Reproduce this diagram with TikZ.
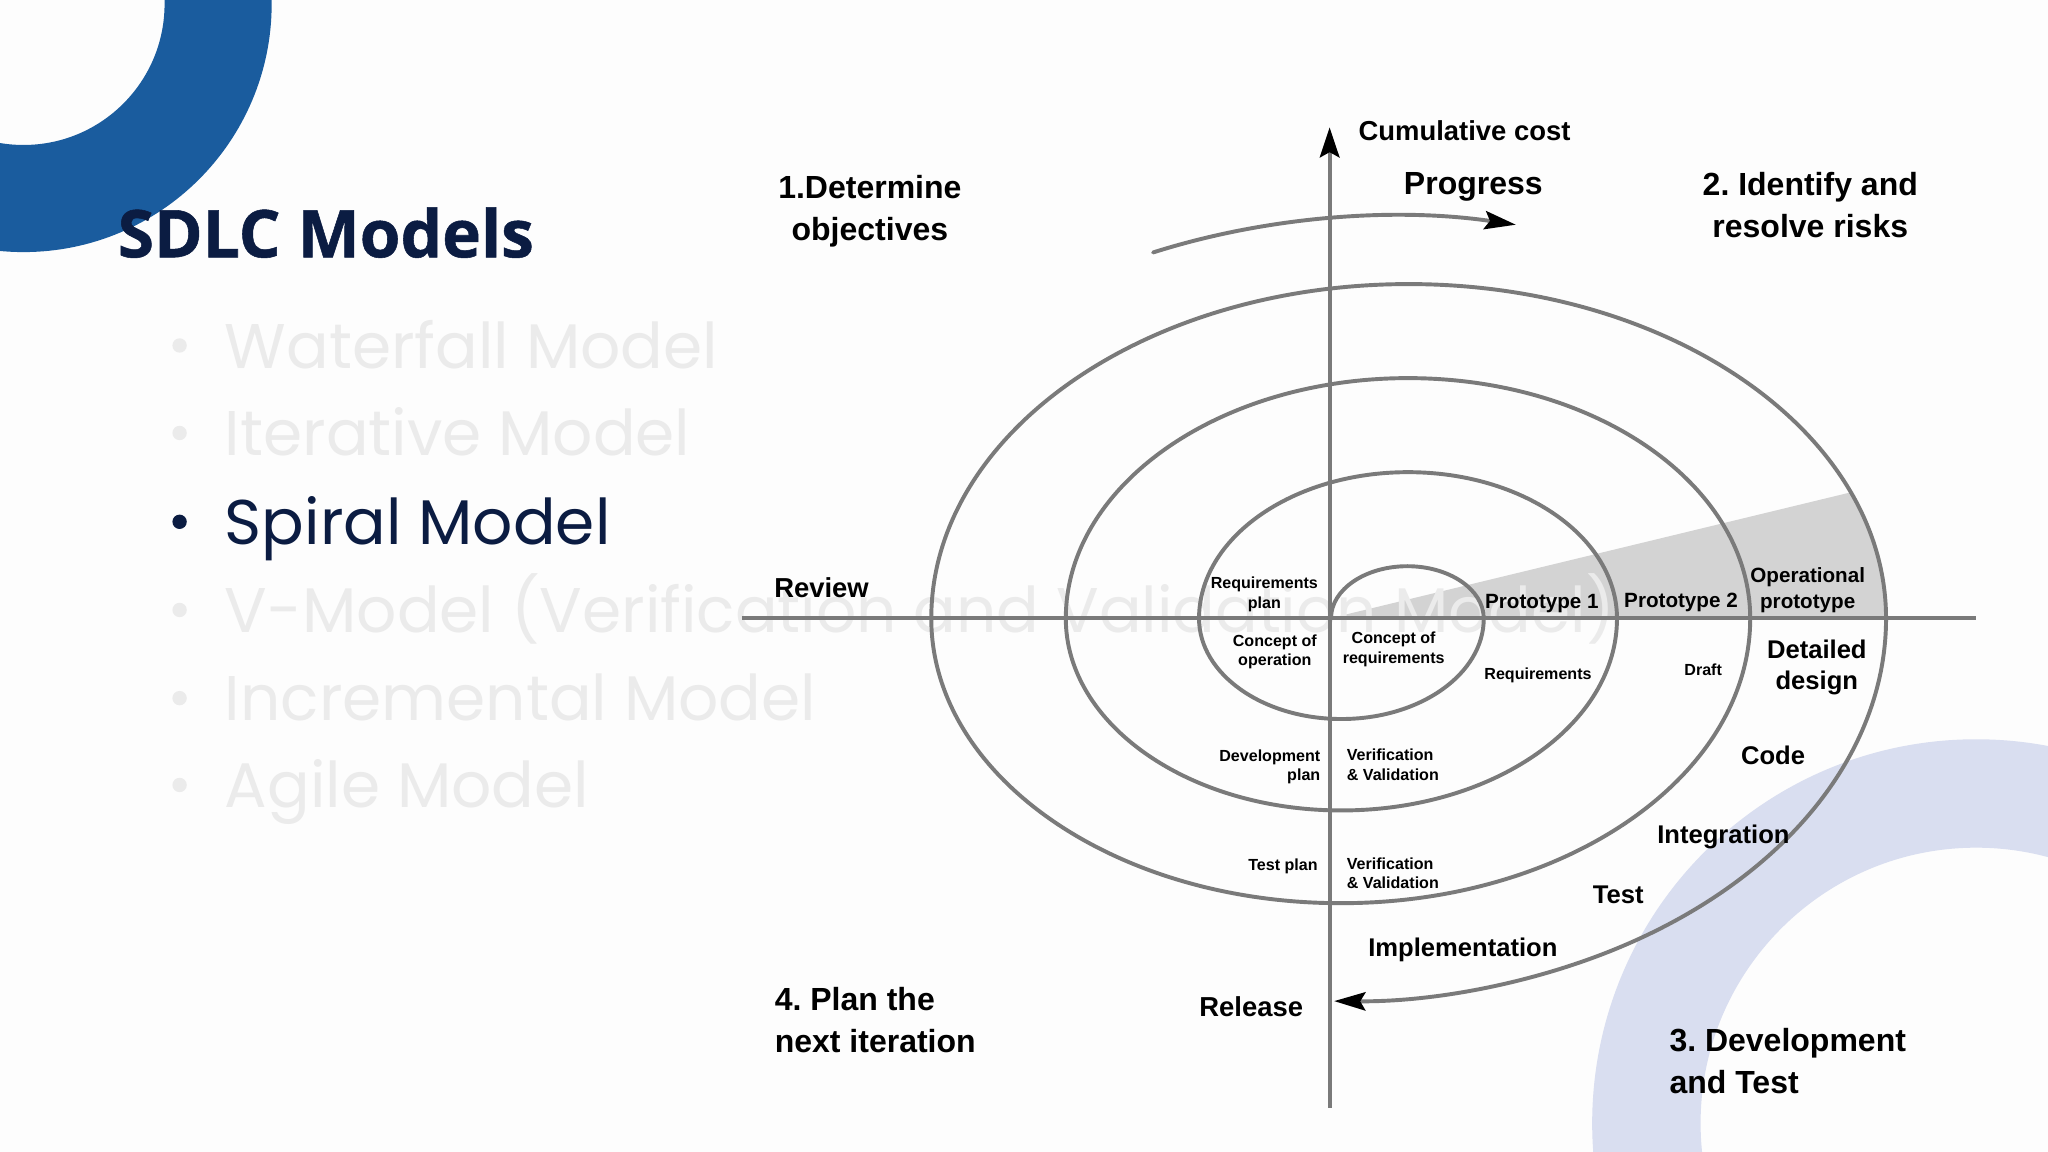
\documentclass[tikz,border=0pt]{standalone}
\usepackage{fontspec}
\setmainfont{Liberation Sans}
\newfontfamily\labfont{Liberation Sans}
\newfontfamily\popfont{Poppins}
\newfontfamily\osfont{Open Sans}[BoldFeatures={FakeBold=0.8}]
\usetikzlibrary{arrows.meta}
\definecolor{bgc}{HTML}{FDFDFD}
\definecolor{ringblue}{HTML}{1A5C9E}
\definecolor{ringlav}{HTML}{D9DEF0}
\definecolor{navy}{HTML}{0B1C42}
\definecolor{fadegray}{HTML}{EBEBEB}
\definecolor{linegray}{HTML}{7A7A7A}
\definecolor{wedgegray}{HTML}{D3D3D3}
\newcommand{\labsz}[2]{\labfont\bfseries\fontsize{#1}{#2}\selectfont}
\frenchspacing
\begin{document}
\begin{tikzpicture}[x=1pt,y=-1pt,
  lab/.style={inner sep=0pt, align=center, text=black},
  big/.style={lab, font=\labsz{24.5}{32}},
  midl/.style={lab, font=\labsz{19.6}{24}},
  sml/.style={lab, font=\labsz{12.3}{15}},
  protol/.style={lab, font=\labsz{15.8}{20}},
  spiral/.style={draw=linegray, line width=3pt, line cap=round, line join=round},
  item/.style={anchor=base west, inner sep=0pt, font=\popfont\fontsize{48.3}{58}\selectfont, text=fadegray},
  tipk/.style={-{Stealth[color=black, length=24pt, width=14pt, inset=4pt]}}
]
\useasboundingbox (0,0) rectangle (1568,882);
\clip (0,0) rectangle (1568,882);
\fill[bgc] (0,0) rectangle (1568,882);

% decorative rings
\draw[ringblue, line width=82pt] (18,3) circle[radius=149];
\draw[ringlav, line width=83pt] (1513,860) circle[radius=252.5];

% title
\node[anchor=base west, inner sep=0pt, text=navy, font=\osfont\bfseries\fontsize{50.4}{60}\selectfont] (title) at (90,197) {SDLC Models};

% wedge
\begin{scope}
  \clip (1078.5,473.5) ellipse[x radius=365.5, y radius=256];
  \fill[wedgegray] (1018,473.5) -- (1480,361.7) -- (1480,473.5) -- cycle;
\end{scope}

% list
\fill[fadegray] (137.5,264.5) circle[radius=5.5];
\node[item] (m1) at (172,282) {Waterfall Model};
\fill[fadegray] (137.5,331.5) circle[radius=5.5];
\node[item] (m2) at (172,349) {Iterative Model};
\fill[navy] (137.5,399.5) circle[radius=5.5];
\node[item, text=navy] (m3) at (172,417) {Spiral Model};
\fill[fadegray] (137.5,467) circle[radius=5.5];
\node[item] (m4) at (172,484.5) {V-Model (Verification and Validation Model)};
\fill[fadegray] (137.5,534.5) circle[radius=5.5];
\node[item] (m5) at (172,552) {Incremental Model};
\fill[fadegray] (137.5,601) circle[radius=5.5];
\node[item] (m6) at (172,618.5) {Agile Model};

% axes
\draw[spiral, line cap=butt] (568,473.5) -- (1513,473.5);
\draw[spiral, line cap=butt, -{Stealth[color=black, length=23pt, width=15pt, inset=4pt]}] (1018,848) -- (1018,97.5);

% spiral
\draw[spiral, tipk] (1019,473.5)
  arc[start angle=180, end angle=360, x radius=58.5, y radius=40]
  arc[start angle=0, end angle=180, x radius=109, y radius=77]
  arc[start angle=180, end angle=360, x radius=160, y radius=112]
  arc[start angle=0, end angle=180, x radius=211, y radius=147]
  arc[start angle=180, end angle=360, x radius=262, y radius=184]
  arc[start angle=0, end angle=180, x radius=313.5, y radius=218]
  arc[start angle=180, end angle=360, x radius=365.5, y radius=256]
  arc[start angle=0, end angle=90.7, x radius=417.5, y radius=293];

% progress arc
\draw[spiral, tipk] (882.8,193.3) arc[start angle=245.4, end angle=282, x radius=445, y radius=308];

% labels
\node[lab, font=\labsz{21}{25}, anchor=west] (cum) at (1040,100) {Cumulative cost};
\node[big] (prog) at (1128,143) {Progress};
\node[big] (obj) at (666,162) {1.Determine\\objectives};
\node[big] (risk) at (1386,157) {2. Identify and\\resolve risks};
\node[lab, font=\labsz{21}{25}] (review) at (629,450) {Review};
\node[big, align=left, anchor=west] (plan) at (593,781) {4. Plan the\\next iteration};
\node[big, align=left, anchor=west] (devt) at (1278,812.5) {3. Development\\and Test};
\node[lab, font=\labsz{21}{25}] (rel) at (958,771) {Release};
\node[midl] (impl) at (1120,727) {Implementation};
\node[midl] (test) at (1239,685) {Test};
\node[midl] (integ) at (1319.5,640.5) {Integration};
\node[midl] (code) at (1357.5,578) {Code};
\node[midl] (detd) at (1391,511) {Detailed\\design};
\node[sml] (draft) at (1304,513) {Draft};
\node[sml] (req) at (1177.5,517) {Requirements};
\node[protol] (p1) at (1180.5,462) {Prototype 1};
\node[protol] (p2) at (1287,461) {Prototype 2};
\node[protol] (opp) at (1384,452) {Operational\\prototype};
\node[sml] (rqp) at (968,455) {Requirements\\plan};
\node[sml] (cop) at (976,499) {Concept of\\operation};
\node[sml] (cor) at (1067,497) {Concept of\\requirements};
\node[sml, align=right, anchor=east] (dvp) at (1011,587) {Development\\plan};
\node[sml, align=left, anchor=west] (vv1) at (1031,585.5) {Verification\\\& Validation};
\node[sml, anchor=east] (tp) at (1009,663) {Test plan};
\node[sml, align=left, anchor=west] (vv2) at (1031,668.5) {Verification\\\& Validation};
\end{tikzpicture}
\end{document}
